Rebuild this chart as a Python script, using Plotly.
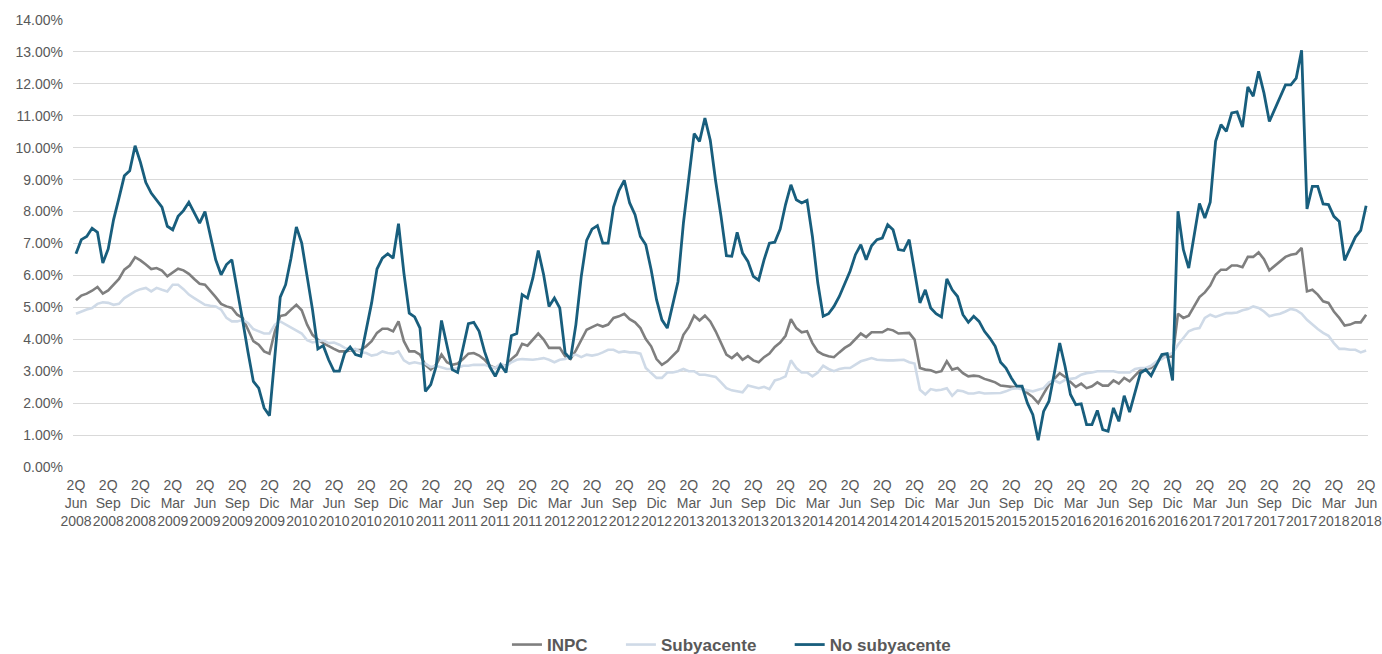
import plotly.graph_objects as go

no_subyacente = [
    6.68, 7.12, 7.22, 7.48, 7.35, 6.39, 6.83, 7.75, 8.42, 9.12, 9.28, 10.06, 9.54, 8.91, 8.58, 8.37, 8.14, 7.54, 7.43, 7.85,
    8.03, 8.29, 7.95, 7.64, 8.00, 7.22, 6.49, 6.02, 6.34, 6.49, 5.6,
    4.6, 3.6, 2.68, 2.47, 1.85, 1.61, 3.47, 5.32, 5.71, 6.54, 7.52, 7.01, 5.97, 4.93, 3.70, 3.80, 3.36, 3.0, 3.0, 3.57,
    3.76, 3.52, 3.47, 4.30, 5.14, 6.20, 6.54, 6.68, 6.54, 7.62, 6.08, 4.82, 4.70, 4.35, 2.37, 2.58, 3.15, 4.59, 3.78, 3.05, 2.96,
    3.78, 4.49, 4.53, 4.25, 3.62, 3.13, 2.84, 3.20, 2.96, 4.11, 4.18, 5.40, 5.29, 5.92, 6.78, 6.02, 5.03, 5.29, 4.98, 3.57,
    3.38, 4.46, 5.97, 7.10, 7.45, 7.56, 7.01, 7.01, 8.14, 8.66, 8.98, 8.27, 7.90, 7.22, 6.96, 6.18, 5.24, 4.61, 4.35, 5.11, 5.81,
    7.64, 9.0, 10.44, 10.2, 10.93, 10.23, 8.95, 7.85, 6.62, 6.60, 7.35, 6.70, 6.44, 5.97, 5.85, 6.49, 7.01, 7.04, 7.45, 8.22,
    8.84, 8.37, 8.27, 8.35, 7.22, 5.76, 4.72, 4.80, 5.03, 5.34, 5.71, 6.13, 6.65, 6.96, 6.49, 6.93, 7.12, 7.17, 7.59, 7.43, 6.81,
    6.78, 7.12, 6.18, 5.14, 5.55, 4.98, 4.80, 4.70, 5.89, 5.55, 5.34, 4.77, 4.53, 4.72, 4.56, 4.25, 4.04, 3.78, 3.28, 3.10,
    2.79, 2.53, 2.53, 2.00, 1.64, 0.84, 1.74, 2.06, 2.94, 3.88, 3.15, 2.27, 1.95, 1.98, 1.33, 1.33, 1.77, 1.17, 1.12, 1.85, 1.43,
    2.23, 1.72, 2.37, 2.94, 3.05, 2.86, 3.20, 3.52, 3.55, 2.71, 8.01, 6.81, 6.23, 7.22, 8.25, 7.80, 8.29, 10.20, 10.72, 10.51,
    11.09, 11.12, 10.65, 11.90, 11.61, 12.39, 11.71, 10.82, 11.19, 11.61, 11.97, 11.97, 12.18, 13.05, 8.08, 8.79, 8.79, 8.24,
    8.22, 7.85, 7.69, 6.47, 6.83, 7.20, 7.41, 8.18,
]

inpc = [
    5.22, 5.37, 5.43, 5.52, 5.64, 5.43, 5.53, 5.71, 5.89, 6.18, 6.31, 6.57, 6.47, 6.34, 6.20, 6.23, 6.15, 5.97, 6.10, 6.21,
    6.16, 6.05, 5.89, 5.74, 5.71, 5.53, 5.32, 5.11, 5.03, 4.98, 4.77,
    4.67, 4.28, 3.94, 3.83, 3.62, 3.55, 4.25, 4.73, 4.77, 4.93, 5.08, 4.91, 4.46, 4.14, 3.99, 3.88, 3.78, 3.70, 3.62, 3.62,
    3.65, 3.65, 3.67, 3.78, 3.94, 4.20, 4.33, 4.33, 4.25, 4.56, 3.94, 3.62, 3.62, 3.52, 3.20, 3.05, 3.20, 3.52, 3.28, 3.20, 3.24,
    3.38, 3.55, 3.57, 3.49, 3.36, 3.17, 3.10, 3.20, 3.17, 3.38, 3.52, 3.86, 3.80, 3.99, 4.18, 3.99, 3.73, 3.73, 3.73, 3.47,
    3.38, 3.65, 3.99, 4.30, 4.38, 4.46, 4.40, 4.46, 4.67, 4.72, 4.80, 4.63, 4.53, 4.35, 4.01, 3.78, 3.38, 3.20, 3.31, 3.49, 3.65,
    4.14, 4.38, 4.74, 4.59, 4.74, 4.56, 4.25, 3.90, 3.52, 3.41, 3.55, 3.36, 3.47, 3.34, 3.28, 3.44, 3.55, 3.76, 3.90, 4.11,
    4.63, 4.35, 4.22, 4.25, 3.88, 3.62, 3.52, 3.47, 3.44, 3.59, 3.73, 3.83, 4.01, 4.18, 4.07, 4.22, 4.22, 4.22, 4.32, 4.28, 4.18,
    4.20, 4.20, 3.99, 3.10, 3.05, 3.03, 2.96, 3.0, 3.31, 3.05, 3.10, 2.94, 2.84, 2.86, 2.84, 2.76, 2.71, 2.65, 2.55, 2.53,
    2.51, 2.49, 2.47, 2.32, 2.19, 2.0, 2.27, 2.58, 2.76, 2.94, 2.82, 2.68, 2.51, 2.61, 2.47, 2.53, 2.65, 2.55, 2.55, 2.71, 2.61,
    2.79, 2.68, 2.86, 3.03, 3.07, 3.10, 3.26, 3.44, 3.47, 3.45, 4.80, 4.67, 4.74, 5.05, 5.32, 5.47, 5.68, 6.02, 6.18, 6.18,
    6.31, 6.31, 6.26, 6.58, 6.58, 6.72, 6.51, 6.16, 6.31, 6.44, 6.58, 6.65, 6.68, 6.86, 5.50, 5.55, 5.40, 5.19,
    5.14, 4.87, 4.67, 4.43, 4.46, 4.53, 4.53, 4.77,
]

subyacente = [
    4.80, 4.87, 4.93, 4.98, 5.11, 5.16, 5.14, 5.08, 5.11, 5.29, 5.40, 5.50, 5.57, 5.61, 5.50, 5.61, 5.55, 5.50, 5.71, 5.71,
    5.57, 5.40, 5.29, 5.19, 5.08, 5.05, 5.03, 4.93, 4.67, 4.56, 4.56,
    4.61, 4.51, 4.32, 4.25, 4.18, 4.18, 4.46, 4.56, 4.46, 4.38, 4.28, 4.18, 3.97, 3.90, 3.94, 3.97, 3.88, 3.90, 3.83, 3.73,
    3.67, 3.70, 3.59, 3.57, 3.49, 3.52, 3.62, 3.57, 3.55, 3.62, 3.34, 3.24, 3.28, 3.24, 3.24, 3.13, 3.17, 3.13, 3.07, 3.07, 3.10,
    3.17, 3.17, 3.20, 3.20, 3.20, 3.15, 3.10, 3.24, 3.15, 3.28, 3.36, 3.38, 3.36, 3.36, 3.38, 3.41, 3.36, 3.28, 3.36, 3.38,
    3.47, 3.52, 3.44, 3.52, 3.49, 3.52, 3.59, 3.67, 3.67, 3.59, 3.62, 3.59, 3.59, 3.55, 3.10, 2.96, 2.79, 2.79, 2.96, 2.96, 3.0,
    3.07, 3.0, 3.0, 2.89, 2.89, 2.86, 2.82, 2.65, 2.47, 2.40, 2.37, 2.34, 2.55, 2.51, 2.47, 2.51, 2.44, 2.71, 2.76, 2.84,
    3.34, 3.10, 2.96, 2.96, 2.84, 2.96, 3.17, 3.07, 3.0, 3.07, 3.10, 3.10, 3.20, 3.31, 3.36, 3.41, 3.36, 3.34, 3.34, 3.34, 3.36,
    3.36, 3.28, 3.24, 2.42, 2.27, 2.44, 2.40, 2.42, 2.47, 2.23, 2.40, 2.37, 2.30, 2.30, 2.34, 2.30, 2.30, 2.30, 2.32, 2.37,
    2.44, 2.47, 2.44, 2.40, 2.37, 2.42, 2.47, 2.65, 2.71, 2.63, 2.73, 2.76, 2.79, 2.89, 2.94, 2.96, 3.0, 3.0, 3.0, 3.0, 2.96,
    2.96, 2.96, 3.07, 3.10, 3.10, 3.17, 3.31, 3.38, 3.49, 3.57, 3.83, 4.04, 4.25, 4.32, 4.35, 4.67, 4.77, 4.70, 4.77, 4.82,
    4.82, 4.84, 4.91, 4.95, 5.03, 4.98, 4.87, 4.72, 4.77, 4.80, 4.87, 4.95, 4.91, 4.80, 4.61, 4.46, 4.32, 4.20,
    4.11, 3.88, 3.70, 3.70, 3.67, 3.67, 3.59, 3.65,
]

series_names = ["INPC", "Subyacente", "No subyacente"]

tick_months = ["Jun", "Sep", "Dic", "Mar"]
tick_years = [2008 + (i * 3 + 5) // 12 for i in range(41)]
tick_labels = ["2Q<br>%s<br>%d" % (tick_months[i % 4], tick_years[i]) for i in range(41)]
tick_positions = [i * 6 for i in range(41)]

x = list(range(len(no_subyacente)))
pad = "\u00a0" * 6

fig = go.Figure()
fig.add_trace(go.Scatter(x=x, y=inpc, name=series_names[0] + pad, mode="lines",
                         line=dict(color="#7f7f7f", width=2.6)))
fig.add_trace(go.Scatter(x=x, y=subyacente, name=series_names[1] + pad, mode="lines",
                         line=dict(color="#cfdae7", width=2.6)))
fig.add_trace(go.Scatter(x=x, y=no_subyacente, name=series_names[2], mode="lines",
                         line=dict(color="#185e7d", width=2.8)))

fig.update_layout(
    width=1382, height=654,
    margin=dict(l=73, r=14, t=20, b=187),
    paper_bgcolor="white", plot_bgcolor="white",
    font=dict(family="Liberation Sans, Arial, sans-serif", color="#595959", size=14),
    showlegend=True,
    legend=dict(orientation="h", x=0.3351, xanchor="left", xref="paper",
                y=(654 - 645) / 654, yanchor="middle", yref="container",
                font=dict(size=17, color="#595959", family="Liberation Sans, Arial, sans-serif", weight="bold"),
                itemwidth=30, traceorder="normal"),
    xaxis=dict(range=[-0.55, 240.35], tickmode="array", tickvals=tick_positions, ticktext=tick_labels,
               showgrid=False, zeroline=False, showline=False, ticks="", tickangle=0, automargin=False,
               ticklabelstandoff=8,
               tickfont=dict(size=14, color="#595959")),
    yaxis=dict(range=[0, 14], dtick=1, tickformat=".2f", ticksuffix="%", showgrid=True, automargin=False,
               gridcolor="#d9d9d9", gridwidth=1, zeroline=False, showline=False, ticks="",
               ticklabelstandoff=9,
               tickfont=dict(size=14, color="#595959")),
)

fig.write_html("out.html", config={"displayModeBar": False},
               post_script="document.body.style.margin='0px';")
